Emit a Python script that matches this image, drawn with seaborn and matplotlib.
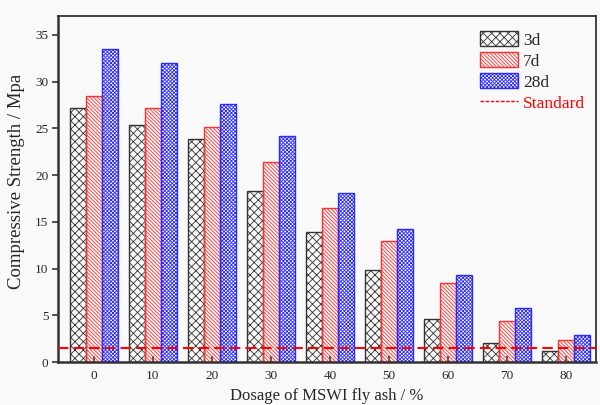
import numpy as np
import pandas as pd
import seaborn as sns
import matplotlib
matplotlib.use("Agg")
import matplotlib.pyplot as plt
from matplotlib.patches import Patch
from matplotlib.lines import Line2D

# Compressive strength of mortar by MSWI fly ash dosage and curing age
dosage = ["0", "10", "20", "30", "40", "50", "60", "70", "80"]
strength_3d = [27.2, 25.4, 23.9, 18.3, 13.9, 9.8, 4.6, 2.05, 1.15]
strength_7d = [28.5, 27.2, 25.2, 21.4, 16.5, 12.9, 8.5, 4.4, 2.35]
strength_28d = [33.5, 32.0, 27.6, 24.2, 18.1, 14.2, 9.3, 5.75, 2.85]
ages = ["3d", "7d", "28d"]
standard_value = 1.5

age_colors = {"3d": "#333333", "7d": "#ff3030", "28d": "#2a2aff"}
age_hatches = {"3d": "xxxx", "7d": "\\" * 9, "28d": "x" * 9}

df = pd.DataFrame({
    "dosage": dosage * 3,
    "age": [a for a in ages for _ in dosage],
    "strength": strength_3d + strength_7d + strength_28d,
})

sns.set_style("ticks")
plt.rcParams["font.family"] = ["Liberation Serif", "DejaVu Serif"]
plt.rcParams["hatch.linewidth"] = 0.6

bg = "#f9f9f9"
fig = plt.figure(figsize=(6.0, 4.05), dpi=100, facecolor=bg)
ax = fig.add_axes([0.097, 0.106, 0.896, 0.854])
ax.set_facecolor(bg)

sns.barplot(data=df, x="dosage", y="strength", hue="age", order=dosage,
            hue_order=ages, width=0.81, color="white", saturation=1,
            errorbar=None, legend=False, ax=ax)

for cont, age in zip(ax.containers, ages):
    for bar in cont:
        bar.set_facecolor("none")
        bar.set_edgecolor(age_colors[age])
        bar.set_hatch(age_hatches[age])
        bar.set_linewidth(1.0)

ax.axhline(standard_value, color="red", ls=(0, (5, 2.5)), lw=1.5, zorder=5)

ax.set_xlim(-0.6, 8.5)
ax.set_ylim(0, 37)
ax.set_yticks([0, 5, 10, 15, 20, 25, 30, 35])
ax.tick_params(axis="y", direction="out", length=4, width=1.2, labelsize=9.5,
               color="#333333", pad=3)
ax.tick_params(axis="x", direction="in", length=4, width=1.2, labelsize=9.5,
               color="#333333", pad=6)
ax.set_xlabel("Dosage of MSWI fly ash / %", fontsize=12, labelpad=4)
ax.set_ylabel("Compressive Strength / Mpa", fontsize=13.5)
ax.yaxis.set_label_coords(-0.061, 0.523)

for side, lw in {"left": 1.8, "bottom": 1.8, "top": 1.3, "right": 1.3}.items():
    ax.spines[side].set_visible(True)
    ax.spines[side].set_linewidth(lw)
    ax.spines[side].set_color("#333333")

handles = [Patch(facecolor="none", edgecolor=age_colors[a], hatch=age_hatches[a], lw=1.0)
           for a in ages]
handles.append(Line2D([], [], color="red", ls=(0, (2.5, 1.2)), lw=1.0))
labels = ages + ["Standard"]
leg = ax.legend(handles, labels, loc="upper right", frameon=False, fontsize=12.5,
                handlelength=2.2, handleheight=0.95, handletextpad=0.3,
                labelspacing=0.2, borderaxespad=0.2, bbox_to_anchor=(1.0, 0.986))
leg.get_texts()[-1].set_color("red")

fig.savefig("out.png", dpi=100, facecolor=bg)
